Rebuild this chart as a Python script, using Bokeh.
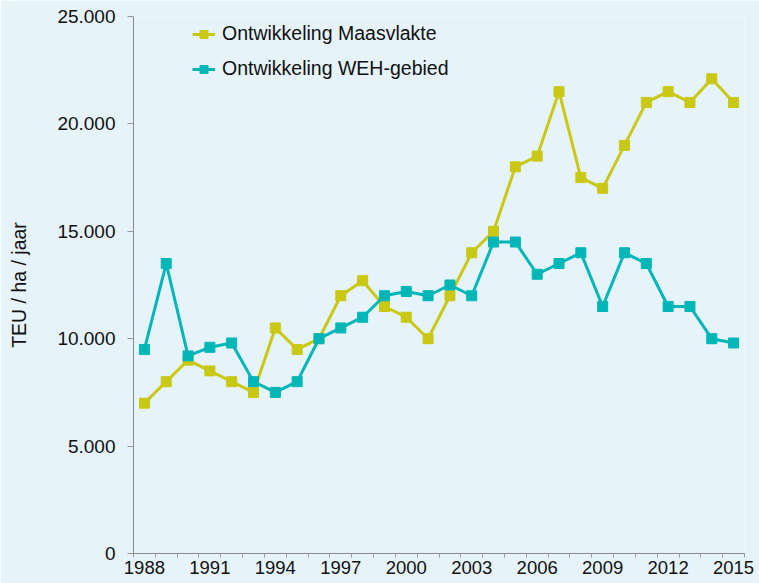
from bokeh.plotting import figure
from bokeh.models import Range1d, FixedTicker, CustomJSTickFormatter, Legend, LegendItem
from bokeh.embed import file_html
from bokeh.resources import INLINE

years = list(range(1988, 2016))
maasvlakte = [7000, 8000, 9000, 8500, 8000, 7500, 10500, 9500, 10000, 12000,
              12700, 11500, 11000, 10000, 12000, 14000, 15000, 18000, 18500, 21500,
              17500, 17000, 19000, 21000, 21500, 21000, 22100, 21000]
weh = [9500, 13500, 9200, 9600, 9800, 8000, 7500, 8000, 10000, 10500,
       11000, 12000, 12200, 12000, 12500, 12000, 14500, 14500, 13000, 13500,
       14000, 11500, 14000, 13500, 11500, 11500, 10000, 9800]
x_labels = [1988, 1991, 1994, 1997, 2000, 2003, 2006, 2009, 2012, 2015]
y_ticks = [0, 5000, 10000, 15000, 20000, 25000]
series_names = ["Ontwikkeling Maasvlakte", "Ontwikkeling WEH-gebied"]
y_title = "TEU / ha / jaar"

BG = "#e6f3fa"
YEL = "#c9c814"
TEAL = "#00b6b6"
FONT = "Liberation Sans"
TXT = "#111111"

p = figure(width=759, height=583, output_backend="svg", toolbar_location=None,
           x_range=Range1d(years[0] - 0.5, years[-1] + 0.5),
           y_range=Range1d(0, 25000),
           min_border_left=133, min_border_right=15, min_border_top=16, min_border_bottom=30)
p.background_fill_color = BG
p.border_fill_color = BG
p.outline_line_color = None
p.xgrid.visible = False
p.ygrid.visible = False

r1l = p.line(years, maasvlakte, line_color=YEL, line_width=3)
r1m = p.scatter(years, maasvlakte, marker="square", size=10, fill_color=YEL, line_color=YEL)
r2l = p.line(years, weh, line_color=TEAL, line_width=3)
r2m = p.scatter(years, weh, marker="square", size=10, fill_color=TEAL, line_color=TEAL)

# x axis
xa = p.xaxis[0]
xa.ticker = FixedTicker(ticks=x_labels, minor_ticks=[y - 0.5 for y in years] + [years[-1] + 0.5])
xa.major_tick_out = 0
xa.major_tick_in = 0
xa.minor_tick_out = 4
xa.minor_tick_in = 0
xa.minor_tick_line_color = "#999999"
xa.axis_line_color = "#8a8a8a"
xa.major_label_text_font = FONT
xa.major_label_text_font_size = "18.5px"
xa.major_label_text_color = TXT
xa.major_label_standoff = 3

# y axis
ya = p.yaxis[0]
ya.ticker = FixedTicker(ticks=y_ticks, minor_ticks=[])
ya.formatter = CustomJSTickFormatter(code="return tick.toFixed(0).replace(/\\B(?=(\\d{3})+(?!\\d))/g, '.');")
ya.major_tick_out = 6
ya.major_tick_in = 0
ya.major_tick_line_color = "#999999"
ya.axis_line_color = "#8a8a8a"
ya.major_label_text_font = FONT
ya.major_label_text_font_size = "19px"
ya.major_label_text_color = TXT
ya.major_label_standoff = 12
ya.axis_label = y_title
ya.axis_label_text_font = FONT
ya.axis_label_text_font_style = "normal"
ya.axis_label_text_font_size = "19.5px"
ya.axis_label_text_color = TXT
ya.axis_label_standoff = 24

legend = Legend(items=[LegendItem(label=series_names[0], renderers=[r1l, r1m]),
                       LegendItem(label=series_names[1], renderers=[r2l, r2m])],
                location=(59, 473))
legend.background_fill_alpha = 0
legend.border_line_color = None
legend.padding = 0
legend.margin = 0
legend.spacing = 12
legend.glyph_width = 23
legend.glyph_height = 20
legend.label_height = 20
legend.label_standoff = 7
legend.label_text_font = FONT
legend.label_text_font_size = "19.5px"
legend.label_text_color = TXT
p.add_layout(legend)

html = file_html(p, INLINE)
html = html.replace("<body>", '<body style="background:%s">' % BG, 1)
open("out.html", "w").write(html)
